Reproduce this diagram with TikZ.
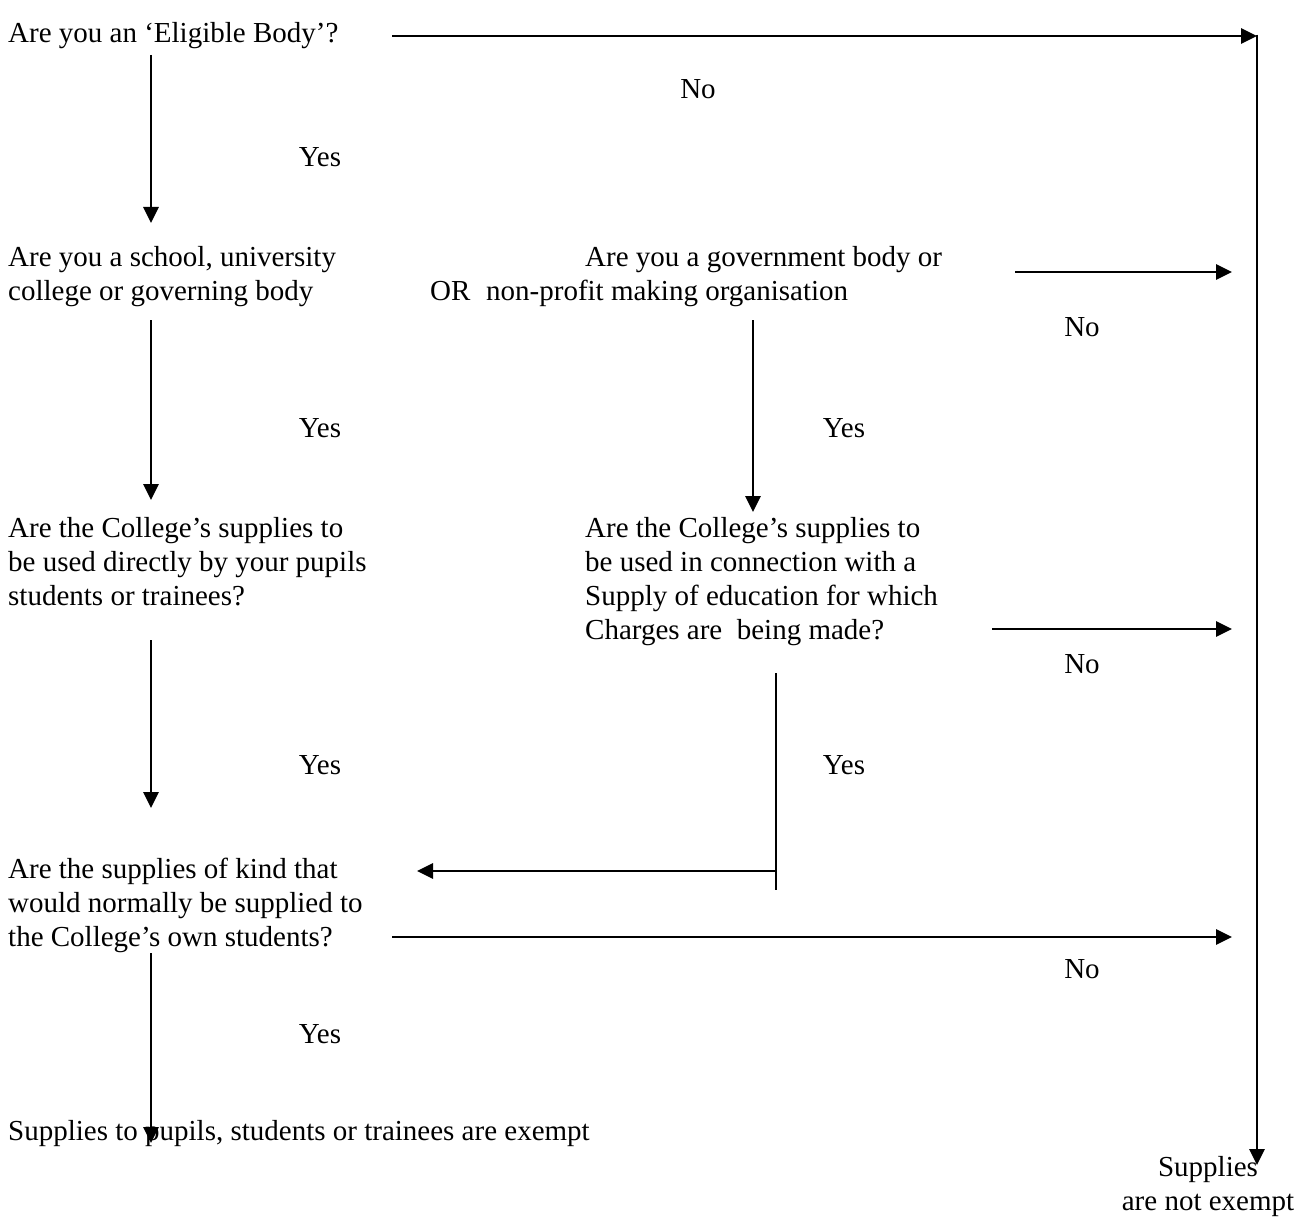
\documentclass[tikz,border=0pt]{standalone}
\usepackage{fontspec}
\setmainfont{Liberation Serif}
\usetikzlibrary{arrows.meta}
\begin{document}
\begin{tikzpicture}[x=1pt,y=-1pt,
  txt/.style={inner sep=0pt, anchor=base west, align=left, font=\fontsize{29}{34}\selectfont},
  lbl/.style={inner sep=0pt, anchor=base, font=\fontsize{29}{34}\selectfont},
  conn/.style={line width=2.8pt},
  arr/.style={conn, -{Triangle[length=16pt,width=15pt]}}]
\useasboundingbox (0,0) rectangle (1306,1217);
% questions (base anchor = baseline of the last line)
\node[txt] (q1) at (8,43) {Are you an ‘Eligible Body’?};
\node[txt] (q2a) at (8,300) {Are you a school, university\\college or governing body};
\node[txt] (or) at (430,300) {OR};
\node[txt] (q2b) at (486,300) {\hspace*{99pt}Are you a government body or\\non-profit making organisation};
\node[txt] (q3a) at (8,605) {Are the College’s supplies to\\be used directly by your pupils\\students or trainees?};
\node[txt] (q3b) at (585,639) {Are the College’s supplies to\\be used in connection with a\\Supply of education for which\\Charges are\ \ being made?};
\node[txt] (q4) at (8,946) {Are the supplies of kind that\\would normally be supplied to\\the College’s own students?};
\node[txt] (ex) at (8,1140) {Supplies to pupils, students or trainees are exempt};
\node[lbl, align=center] (nex) at (1208,1210) {Supplies\\are not exempt};
% labels
\node[lbl] (no1) at (698,99) {No};
\node[lbl] (yes1) at (320,167) {Yes};
\node[lbl] (no2) at (1082,336) {No};
\node[lbl] (yes2a) at (320,437) {Yes};
\node[lbl] (yes2b) at (844,437) {Yes};
\node[lbl] (no3) at (1082,673) {No};
\node[lbl] (yes3a) at (320,774) {Yes};
\node[lbl] (yes3b) at (844,774) {Yes};
\node[lbl] (no4) at (1082,978) {No};
\node[lbl] (yes4) at (320,1043) {Yes};
% connector end points
\coordinate (a1s) at (392,36);
\coordinate (a1e) at (1257,36);
\coordinate (a1c) at (1257,34.6);
\coordinate (a1b) at (1257,1165);
\coordinate (c1s) at (151,55);   \coordinate (c1e) at (151,223);
\coordinate (c2s) at (151,320);  \coordinate (c2e) at (151,500);
\coordinate (c3s) at (151,640);  \coordinate (c3e) at (151,808);
\coordinate (c4s) at (151,953);  \coordinate (c4e) at (151,1143);
\coordinate (d1s) at (753,320);  \coordinate (d1e) at (753,512);
\coordinate (d2s) at (776,673);  \coordinate (d2e) at (776,890);
\coordinate (d2m) at (776,871);  \coordinate (d2t) at (417,871);
\coordinate (r2s) at (1015,272); \coordinate (r2e) at (1232,272);
\coordinate (r3s) at (992,629);  \coordinate (r3e) at (1232,629);
\coordinate (r4s) at (392,937);  \coordinate (r4e) at (1232,937);
% connectors
\draw[arr] (a1s) -- (a1e);
\draw[arr] (a1c) -- (a1b);
\draw[arr] (c1s) -- (c1e);
\draw[arr] (c2s) -- (c2e);
\draw[arr] (c3s) -- (c3e);
\draw[arr] (c4s) -- (c4e);
\draw[arr] (d1s) -- (d1e);
\draw[conn] (d2s) -- (d2e);
\draw[arr] (d2m) -- (d2t);
\draw[arr] (r2s) -- (r2e);
\draw[arr] (r3s) -- (r3e);
\draw[arr] (r4s) -- (r4e);
\end{tikzpicture}
\end{document}
